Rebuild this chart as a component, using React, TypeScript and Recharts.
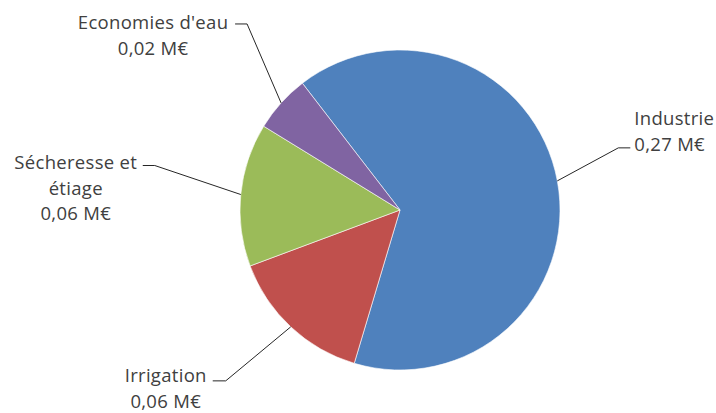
import React from "react";
import { PieChart, Pie, Cell } from "recharts";

// ---- data ----
const CATEGORIES = ["Industrie", "Irrigation", "Sécheresse et\nétiage", "Economies d'eau"];
const VALUES = [0.27, 0.061, 0.06, 0.024];
const UNIT = "M€";

// ---- styles ----
const COLORS = ["#4F81BD", "#C0504D", "#9BBB59", "#8064A2"];
const TEXT_COLOR = "#404040";
const FONT = "'Open Sans', sans-serif";
const FONT_SIZE = 18.5;
const LINE_GAP = 25.5;

// leader line layout per slice: elbow offset from slice edge, horizontal tail, text offset from tail end
const LABEL_LAYOUT = [
  { ex: 61, ey: -33, tail: 12, tx: 4, ty: -30, anchor: "start" },
  { ex: -65, ey: 54, tail: -13, tx: -47, ty: -6, anchor: "middle" },
  { ex: -86, ey: -29, tail: -12, tx: -67, ty: -4, anchor: "middle" },
  { ex: -34, ey: -79, tail: -12, tx: -82, ty: -2, anchor: "middle" },
];

const data = CATEGORIES.map((name, i) => ({ name, value: VALUES[i] }));

const RAD = Math.PI / 180;

function renderLabel(props: any) {
  const { cx, cy, midAngle, outerRadius, index } = props;
  const lay = LABEL_LAYOUT[index];
  const sx = cx + outerRadius * Math.cos(-midAngle * RAD);
  const sy = cy + outerRadius * Math.sin(-midAngle * RAD);
  const mx = sx + lay.ex;
  const my = sy + lay.ey;
  const endX = mx + lay.tail;
  const lines = [
    ...CATEGORIES[index].split("\n"),
    `${VALUES[index].toFixed(2).replace(".", ",")} ${UNIT}`,
  ];
  return (
    <g key={`lbl-${index}`}>
      <polyline
        points={`${sx},${sy} ${mx},${my} ${endX},${my}`}
        fill="none"
        stroke="#262626"
        strokeWidth={1}
      />
      {lines.map((line, j) => (
        <text
          key={j}
          x={endX + lay.tx}
          y={my + lay.ty + j * LINE_GAP}
          textAnchor={lay.anchor as any}
          dominantBaseline="central"
          fill={TEXT_COLOR}
          fontFamily={FONT}
          fontSize={FONT_SIZE}
          letterSpacing={0.3}
        >
          {line}
        </text>
      ))}
    </g>
  );
}

export default function App() {
  return (
    <div style={{ position: "fixed", left: 0, top: 0, width: 716, height: 413, background: "#fff" }}>
      <PieChart width={716} height={413} margin={{ top: 0, right: 0, bottom: 0, left: 0 }}>
        <Pie
          data={data}
          dataKey="value"
          nameKey="name"
          cx={400}
          cy={210}
          outerRadius={160}
          startAngle={127.6}
          endAngle={-232.4}
          stroke="#ffffff"
          strokeWidth={0.6}
          label={renderLabel}
          labelLine={false}
          isAnimationActive={false}
        >
          {data.map((_, i) => (
            <Cell key={i} fill={COLORS[i]} />
          ))}
        </Pie>
      </PieChart>
    </div>
  );
}
